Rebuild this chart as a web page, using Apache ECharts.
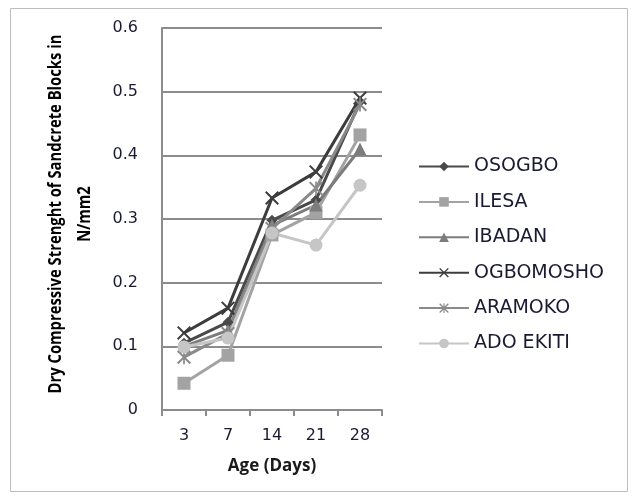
<!DOCTYPE html>
<html>
<head>
<meta charset="utf-8">
<script src="https://cdn.jsdelivr.net/npm/echarts@6/dist/echarts.min.js"></script>
<style>
  html, body { margin: 0; padding: 0; background: #fff; }
  #chart { width: 638px; height: 497px; }
</style>
</head>
<body>
<div id="chart"></div>
<script>
'use strict';
// categories (days)
var ages = ['3', '7', '14', '21', '28'];
var yTicks = [0, 0.1, 0.2, 0.3, 0.4, 0.5, 0.6];

// series values
var osogbo    = [0.105, 0.138, 0.298, 0.330, 0.484];
var ilesa     = [0.042, 0.086, 0.275, 0.310, 0.432];
var ibadan    = [0.100, 0.125, 0.290, 0.322, 0.410];
var ogbomosho = [0.121, 0.160, 0.333, 0.374, 0.490];
var aramoko   = [0.083, 0.120, 0.285, 0.348, 0.480];
var adoEkiti  = [0.099, 0.113, 0.278, 0.259, 0.353];

var names = ['OSOGBO', 'ILESA', 'IBADAN', 'OGBOMOSHO', 'ARAMOKO', 'ADO EKITI'];
var values = [osogbo, ilesa, ibadan, ogbomosho, aramoko, adoEkiti];
var colors = ['#4a4a4a', '#a3a3a3', '#7c7c7c', '#3c3c3c', '#8a8a8a', '#c6c6c6'];

var xMark = 'path://M0,1L1,0L10,9L9,10ZM9,0L10,1L1,10L0,9Z';
var starMark = 'path://M0,1L1,0L10,9L9,10ZM9,0L10,1L1,10L0,9ZM4.4,0L5.6,0L5.6,10L4.4,10Z';
var symbols = ['diamond', 'rect', 'triangle', xMark, starMark, 'circle'];
var sizes = [11, 13, 13, 14, 14, 13];

var chart = echarts.init(document.getElementById('chart'));
var font = "'DejaVu Sans', 'Open Sans', sans-serif";

var series = names.map(function(n, i) {
  return {
    name: n,
    type: 'line',
    data: values[i],
    symbol: symbols[i],
    symbolSize: sizes[i],
    showAllSymbol: true,
    lineStyle: { color: colors[i], width: 3 },
    itemStyle: { color: colors[i], borderWidth: 0 },
    emphasis: { disabled: true }
  };
});

var option = {
  animation: false,
  backgroundColor: '#fff',
  graphic: [{
    type: 'rect',
    shape: { x: 10.5, y: 8.5, width: 617, height: 483 },
    style: { fill: 'none', stroke: '#bdbdbd', lineWidth: 1 },
    silent: true
  }, {
    type: 'text',
    x: 71,
    y: 214,
    rotation: Math.PI / 2,
    scaleX: 0.87,
    silent: true,
    style: {
      text: 'Dry Compressive Strenght of Sandcrete Blocks in\nN/mm2',
      font: "bold 17px 'Open Sans', sans-serif",
      fill: '#000',
      textAlign: 'center',
      textVerticalAlign: 'middle',
      lineHeight: 29
    }
  }],
  grid: { left: 162, right: 256, top: 28, bottom: 87 },
  legend: {
    orient: 'vertical',
    left: 413,
    top: 152,
    padding: 5,
    itemWidth: 50,
    itemHeight: 12,
    itemGap: 16.4,
    textStyle: { fontFamily: font, fontSize: 19, color: '#1a1a33' },
    data: names
  },
  xAxis: {
    type: 'category',
    data: ages,
    boundaryGap: true,
    name: 'Age (Days)',
    nameLocation: 'middle',
    nameGap: 48,
    nameTextStyle: { fontFamily: "'Open Sans', sans-serif", fontSize: 17, fontWeight: 'bold', color: '#1a1a1a' },
    axisLine: { lineStyle: { color: '#8c8c8c', width: 2 } },
    axisTick: { show: true, alignWithLabel: false, length: 6, lineStyle: { color: '#8c8c8c', width: 2 } },
    axisLabel: { fontFamily: font, fontSize: 16, color: '#1a1a33', margin: 18 }
  },
  yAxis: {
    type: 'value',
    min: yTicks[0],
    max: yTicks[yTicks.length - 1],
    interval: 0.1,
    axisLine: { show: true, lineStyle: { color: '#8c8c8c', width: 2 } },
    axisTick: { show: false },
    axisLabel: { fontFamily: font, fontSize: 16, color: '#1a1a33', margin: 24,
      formatter: function(v) { return v === 0 ? '0' : v.toFixed(1); } },
    splitLine: { lineStyle: { color: '#8c8c8c', width: 2 } }
  },
  series: series
};

chart.setOption(option);
</script>
</body>
</html>
